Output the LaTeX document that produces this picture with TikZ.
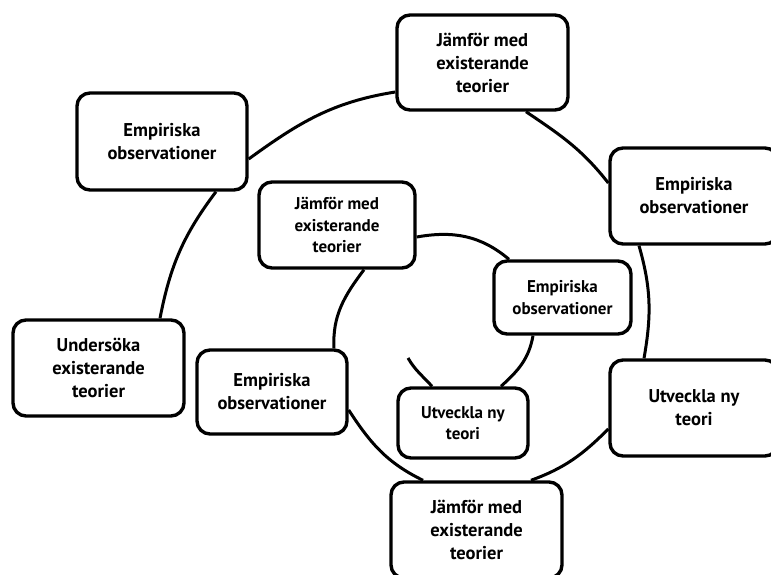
\documentclass[tikz,border=0pt]{standalone}
\usepackage{fontspec}
\setmainfont{PT Sans}
\begin{document}
\begin{tikzpicture}[x=1pt,y=1pt,
  box/.style={draw=black, line width=3.4pt, rounded corners=13pt, fill=white, align=center, inner sep=0pt,
    font=\bfseries\fontsize{18.5}{23}\selectfont},
  smallbox/.style={box, font=\bfseries\fontsize{17}{21.5}\selectfont},
  link/.style={draw=black, line width=3pt}]
\fill[white] (0,0) rectangle (771,574);
\useasboundingbox (0,0) rectangle (771,574);

\node[box, minimum width=171pt, minimum height=95pt] (topJ) at (482.5,511.5) {Jämför med\\existerande\\teorier};
\node[box, minimum width=170pt, minimum height=97pt] (tlE) at (162,432.5) {Empiriska\\observationer};
\node[box, minimum width=168pt, minimum height=96pt] (rE) at (694,378) {Empiriska\\observationer};
\node[smallbox, minimum width=156pt, minimum height=86pt] (mJ) at (337,349) {Jämför med\\existerande\\teorier};
\node[smallbox, minimum width=137pt, minimum height=73pt] (iE) at (562.5,276.5) {Empiriska\\observationer};
\node[box, minimum width=171pt, minimum height=96pt] (lU) at (98.5,206) {Undersöka\\existerande\\teorier};
\node[box, minimum width=150pt, minimum height=84pt] (mE) at (272,182) {Empiriska\\observationer};
\node[smallbox, minimum width=130pt, minimum height=70pt] (iU) at (463,151) {Utveckla ny\\teori};
\node[box, minimum width=168pt, minimum height=96pt] (rU) at (694,166) {Utveckla ny\\teori};
\node[box, minimum width=171pt, minimum height=96pt] (bJ) at (476.5,44) {Jämför med\\existerande\\teorier};
\coordinate (fe) at (408,216);

\draw[link] ([xshift=61.5pt]lU.north) to[out=79,in=233] ([xshift=54pt]tlE.south);
\draw[link] ([yshift=-17.5pt]tlE.east) to[out=36,in=189] ([yshift=-29.5pt]topJ.west);
\draw[link] ([xshift=43.5pt]topJ.south) to[out=-34,in=128] ([yshift=13pt]rE.west);
\draw[link] ([xshift=-55pt]rE.south) to[out=-74,in=80] ([xshift=-50pt]rU.north);
\draw[link] ([yshift=-21pt]rU.west) to[out=225,in=20] ([xshift=54.5pt]bJ.north);
\draw[link] ([xshift=-53.5pt]bJ.north) to[out=154,in=-57] ([yshift=-18pt]mE.east);
\draw[link] ([xshift=62pt]mE.north) to[out=93,in=233] ([xshift=27pt]mJ.south);
\draw[link] ([yshift=-12pt]mJ.east) to[out=10,in=140] ([xshift=-53.5pt]iE.north);
\draw[link] ([xshift=-29.5pt]iE.south) to[out=-100,in=42] ([xshift=38pt]iU.north);
\draw[link] ([xshift=-31pt]iU.north) to[out=132,in=-60] (fe);
\end{tikzpicture}
\end{document}
